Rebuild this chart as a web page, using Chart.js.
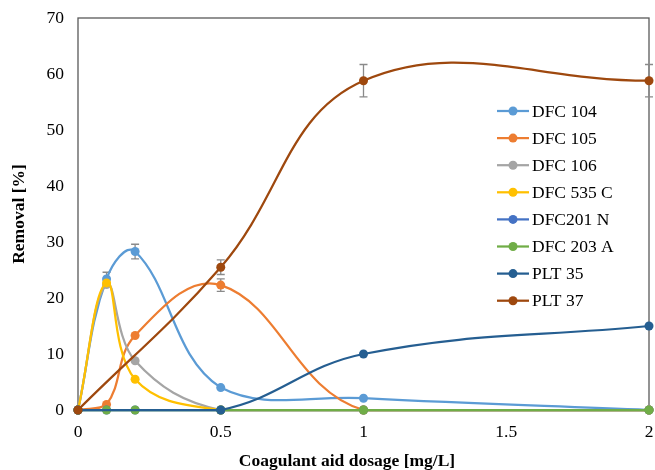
<!DOCTYPE html>
<html>
<head>
<meta charset="utf-8">
<script src="https://cdn.jsdelivr.net/npm/chart.js@4.4.1/dist/chart.umd.min.js"></script>
<style>
  html, body { margin: 0; padding: 0; background: #fff; }
  #wrap { width: 655px; height: 470px; position: relative; }
</style>
</head>
<body>
<div id="wrap"><canvas id="chart"></canvas></div>
<script>
// dosage values (mg/L)
const doses = [0, 0.1, 0.2, 0.5, 1, 2];

const seriesNames = ['DFC 104', 'DFC 105', 'DFC 106', 'DFC 535 C', 'DFC201 N', 'DFC 203 A', 'PLT 35', 'PLT 37'];
const seriesColors = ['#5B9BD5', '#ED7D31', '#A5A5A5', '#FFC000', '#4472C4', '#70AD47', '#255E91', '#9E480E'];

// removal [%]
const dfc104 = [0, 23.4, 28.3, 4.0, 2.1, 0];
const dfc105 = [0, 1.0, 13.3, 22.3, 0, 0];
const dfc106 = [0, 22.4, 8.8, 0, 0, 0];
const dfc535c = [0, 22.7, 5.5, 0, 0, 0];
const dfc201n = [0, 0, 0, 0, 0, 0];
const dfc203a = [0, 0, 0, 0, 0, 0];
const plt35 = [0, null, null, 0, 10.0, 15.0];
const plt37 = [0, null, null, 25.5, 58.8, 58.8];

// error bars (+/-)
const dfc104Err = [0, 1.2, 1.3, 0, 0, 0];
const dfc105Err = [0, 0, 0, 1.1, 0, 0];
const plt37Err = [0, 0, 0, 1.3, 2.9, 2.9];

const xTicks = [0, 0.5, 1, 1.5, 2];
const yTicks = [0, 10, 20, 30, 40, 50, 60, 70];

const seriesValues = [dfc104, dfc105, dfc106, dfc535c, dfc201n, dfc203a, plt35, plt37];
const seriesErrors = [dfc104Err, dfc105Err, null, null, null, null, null, plt37Err];

const FONT = '"Liberation Serif", "Times New Roman", serif';
const FSIZE = 17.5;

const datasets = seriesNames.map((name, s) => ({
    label: name,
    data: doses.map((d, i) => ({ x: d, y: seriesValues[s][i] })),
    borderColor: seriesColors[s],
    backgroundColor: seriesColors[s],
    pointBackgroundColor: seriesColors[s],
    pointBorderWidth: 0,
    pointRadius: 4.5,
    borderWidth: 2.25,
    tension: 0.4,
    spanGaps: true,
    clip: false,
    order: seriesNames.length - s
}));

const decor = {
    id: 'decor',
    beforeDatasetsDraw(chart) {
        const { ctx, chartArea: a, scales: { x, y } } = chart;
        ctx.save();
        ctx.strokeStyle = '#595959';
        ctx.lineWidth = 1.3;
        ctx.strokeRect(a.left, a.top, a.right - a.left, a.bottom - a.top);

        ctx.strokeStyle = '#8a8a8a';
        ctx.lineWidth = 1.3;
        seriesErrors.forEach((errs, s) => {
            if (!errs) return;
            errs.forEach((e, i) => {
                const v = seriesValues[s][i];
                if (!e || v == null) return;
                const px = x.getPixelForValue(doses[i]);
                const top = y.getPixelForValue(v + e);
                const bot = y.getPixelForValue(v - e);
                ctx.beginPath();
                ctx.moveTo(px, top); ctx.lineTo(px, bot);
                ctx.moveTo(px - 4, top); ctx.lineTo(px + 4, top);
                ctx.moveTo(px - 4, bot); ctx.lineTo(px + 4, bot);
                ctx.stroke();
            });
        });
        ctx.restore();
    },
    afterDraw(chart) {
        const { ctx } = chart;
        ctx.save();
        // legend
        ctx.font = `${FSIZE}px ${FONT}`;
        ctx.textBaseline = 'middle';
        ctx.textAlign = 'left';
        seriesNames.forEach((name, s) => {
            const ly = 111 + s * 27.1;
            ctx.strokeStyle = seriesColors[s];
            ctx.lineWidth = 2.25;
            ctx.beginPath();
            ctx.moveTo(497, ly); ctx.lineTo(529, ly);
            ctx.stroke();
            ctx.fillStyle = seriesColors[s];
            ctx.beginPath();
            ctx.arc(513, ly, 4.5, 0, Math.PI * 2);
            ctx.fill();
            ctx.fillStyle = '#000';
            ctx.fillText(name, 532, ly + 1);
        });
        // x axis title
        ctx.font = `bold ${FSIZE}px ${FONT}`;
        ctx.textAlign = 'center';
        ctx.fillStyle = '#000';
        ctx.fillText('Coagulant aid dosage [mg/L]', 347, 461);
        ctx.restore();
    }
};

new Chart(document.getElementById('chart'), {
    type: 'line',
    data: { datasets },
    plugins: [decor],
    options: {
        responsive: true,
        maintainAspectRatio: false,
        animation: false,
        devicePixelRatio: 1,
        layout: { padding: { left: 0, top: 18, right: 6, bottom: 0 } },
        plugins: {
            legend: { display: false },
            tooltip: { enabled: false }
        },
        scales: {
            x: {
                type: 'linear',
                min: 0,
                max: 2,
                afterBuildTicks: (axis) => { axis.ticks = xTicks.map(v => ({ value: v })); },
                afterFit: (axis) => {
                    axis.height = 60;
                    axis.paddingLeft = 0;
                    axis.paddingRight = 0;
                },
                grid: { display: false, drawTicks: false },
                border: { display: false },
                ticks: {
                    color: '#000',
                    padding: 12,
                    maxRotation: 0,
                    callback: (v) => String(v),
                    font: { family: FONT, size: FSIZE }
                },
                title: { display: false }
            },
            y: {
                min: 0,
                max: 70,
                afterBuildTicks: (axis) => { axis.ticks = yTicks.map(v => ({ value: v })); },
                afterFit: (axis) => {
                    axis.width = 78;
                    axis.paddingTop = 0;
                    axis.paddingBottom = 0;
                },
                grid: { display: false, drawTicks: false },
                border: { display: false },
                ticks: {
                    color: '#000',
                    padding: 14,
                    callback: (v) => String(v),
                    font: { family: FONT, size: FSIZE }
                },
                title: {
                    display: true,
                    text: 'Removal [%]',
                    color: '#000',
                    padding: { top: 9, bottom: 0 },
                    font: { family: FONT, size: FSIZE, weight: 'bold' }
                }
            }
        }
    }
});
</script>
</body>
</html>
